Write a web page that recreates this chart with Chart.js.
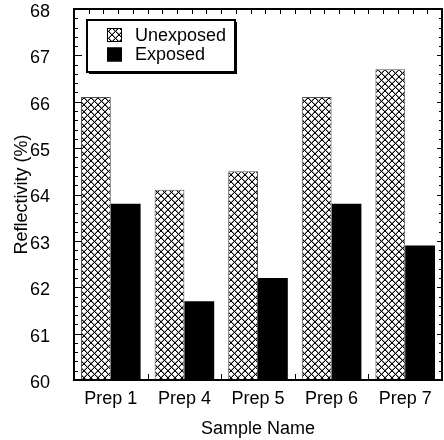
<!DOCTYPE html>
<html>
<head>
<meta charset="utf-8">
<script src="https://cdn.jsdelivr.net/npm/chart.js@4.4.1/dist/chart.umd.min.js"></script>
<style>
  html, body { margin: 0; padding: 0; background: #fff; }
</style>
</head>
<body>
<canvas id="chart" width="444" height="440"></canvas>
<script>
const samples = ['Prep 1', 'Prep 4', 'Prep 5', 'Prep 6', 'Prep 7'];
const unexposed = [66.1, 64.1, 64.5, 66.1, 66.7];
const exposed = [63.8, 61.7, 62.2, 63.8, 62.9];
const seriesNames = ['Unexposed', 'Exposed'];
const yTicks = [60, 61, 62, 63, 64, 65, 66, 67, 68];

const FONT = "'Liberation Sans', Arial, sans-serif";

// small diagonal cross-hatch tile used as a fill, drawn pixel by pixel so it stays crisp
function crossHatch(ctx) {
    const n = 7;
    const c = document.createElement('canvas');
    c.width = n;
    c.height = n;
    const g = c.getContext('2d');
    g.fillStyle = '#fff';
    g.fillRect(0, 0, n, n);
    // soft edge beside each diagonal
    g.fillStyle = '#9a9a9a';
    for (let i = 0; i < n; i++) {
        g.fillRect((i + 1) % n, i, 1, 1);
        g.fillRect((2 * n - 2 - i) % n, i, 1, 1);
    }
    g.fillStyle = '#000';
    for (let i = 0; i < n; i++) {
        g.fillRect(i, i, 1, 1);
        g.fillRect(n - 1 - i, i, 1, 1);
    }
    return ctx.createPattern(c, 'repeat');
}

const canvas = document.getElementById('chart');
const ctx = canvas.getContext('2d');
const hatch = crossHatch(ctx);

// box around the plot with inward tick marks on all four sides
const framePlugin = {
    id: 'frame',
    afterDatasetsDraw(chart) {
        const { ctx, chartArea: a, scales: { y } } = chart;
        ctx.save();
        ctx.strokeStyle = '#000';
        ctx.lineWidth = 1;
        ctx.beginPath();
        for (let i = 0; i <= 40; i++) {
            const v = 60 + i * 0.2;
            const py = Math.round(y.getPixelForValue(v)) + 0.5;
            const major = i % 5 === 0;
            ctx.moveTo(a.left, py);
            ctx.lineTo(a.left + (major ? 8 : 4), py);
            ctx.moveTo(a.right, py);
            ctx.lineTo(a.right - (major ? 5 : 3), py);
        }
        const step = (a.right - a.left) / samples.length;
        for (let i = 1; i < samples.length; i++) {
            const px = Math.round(a.left + i * step) + 0.5;
            ctx.moveTo(px, a.bottom);
            ctx.lineTo(px, a.bottom - 6);
        }
        for (let i = 1; i < samples.length * 5; i++) {
            const px = Math.round(a.left + i * step / 5) + 0.5;
            ctx.moveTo(px, a.top);
            ctx.lineTo(px, a.top + 5);
        }
        ctx.stroke();
        ctx.lineWidth = 2;
        ctx.strokeRect(a.left, a.top, a.right - a.left, a.bottom - a.top);
        ctx.restore();
    }
};

// framed legend with a drop shadow in the upper left of the plot
const legendPlugin = {
    id: 'boxLegend',
    afterDraw(chart) {
        const { ctx } = chart;
        const x = 87, y = 20, w = 148, h = 52;
        ctx.save();
        ctx.fillStyle = '#000';
        ctx.fillRect(x + 2, y + 2, w, h);
        ctx.fillStyle = '#fff';
        ctx.fillRect(x, y, w, h);
        ctx.strokeStyle = '#000';
        ctx.lineWidth = 2;
        ctx.strokeRect(x, y, w, h);
        ctx.font = '18px ' + FONT;
        ctx.textBaseline = 'middle';
        chart.data.datasets.forEach((ds, i) => {
            const sy = 28 + i * 19.5;
            ctx.fillStyle = ds.backgroundColor;
            ctx.fillRect(107, sy, 15, 14);
            ctx.lineWidth = 1;
            ctx.strokeStyle = '#000';
            ctx.strokeRect(107.5, sy + 0.5, 14, 13);
            ctx.fillStyle = '#000';
            ctx.fillText(ds.label, 135, sy + 8);
        });
        ctx.restore();
    }
};

new Chart(ctx, {
    type: 'bar',
    data: {
        labels: samples,
        datasets: [
            {
                label: seriesNames[0],
                data: unexposed,
                backgroundColor: hatch,
                borderColor: '#555',
                borderWidth: 1
            },
            {
                label: seriesNames[1],
                data: exposed,
                backgroundColor: '#000',
                borderWidth: 0
            }
        ]
    },
    options: {
        responsive: false,
        animation: false,
        devicePixelRatio: 1,
        datasets: { bar: { categoryPercentage: 0.81, barPercentage: 1 } },
        layout: { padding: { top: 9, right: 2, left: 0, bottom: 0 } },
        plugins: {
            legend: { display: false },
            tooltip: { enabled: false }
        },
        scales: {
            x: {
                grid: { display: false },
                border: { display: false },
                ticks: {
                    color: '#000',
                    font: { family: FONT, size: 18 },
                    padding: 0,
                    maxRotation: 0
                },
                title: {
                    display: true,
                    text: 'Sample Name',
                    color: '#000',
                    font: { family: FONT, size: 18 },
                    padding: { top: 0, bottom: 0 }
                },
                afterFit(scale) {
                    scale.height = 60;
                    scale.paddingLeft = 0;
                    scale.paddingRight = 0;
                }
            },
            y: {
                min: 60,
                max: 68,
                afterBuildTicks(scale) {
                    scale.ticks = yTicks.map(v => ({ value: v }));
                },
                grid: { display: false },
                border: { display: false },
                ticks: {
                    color: '#000',
                    font: { family: FONT, size: 18 },
                    padding: 16,
                    labelOffset: 3
                },
                title: {
                    display: true,
                    text: 'Reflectivity (%)',
                    color: '#000',
                    font: { family: FONT, size: 18 },
                    padding: { top: 11, bottom: 0 }
                },
                afterFit(scale) {
                    scale.width = 74;
                    scale.paddingTop = 0;
                    scale.paddingBottom = 0;
                }
            }
        }
    },
    plugins: [framePlugin, legendPlugin]
});
</script>
</body>
</html>
